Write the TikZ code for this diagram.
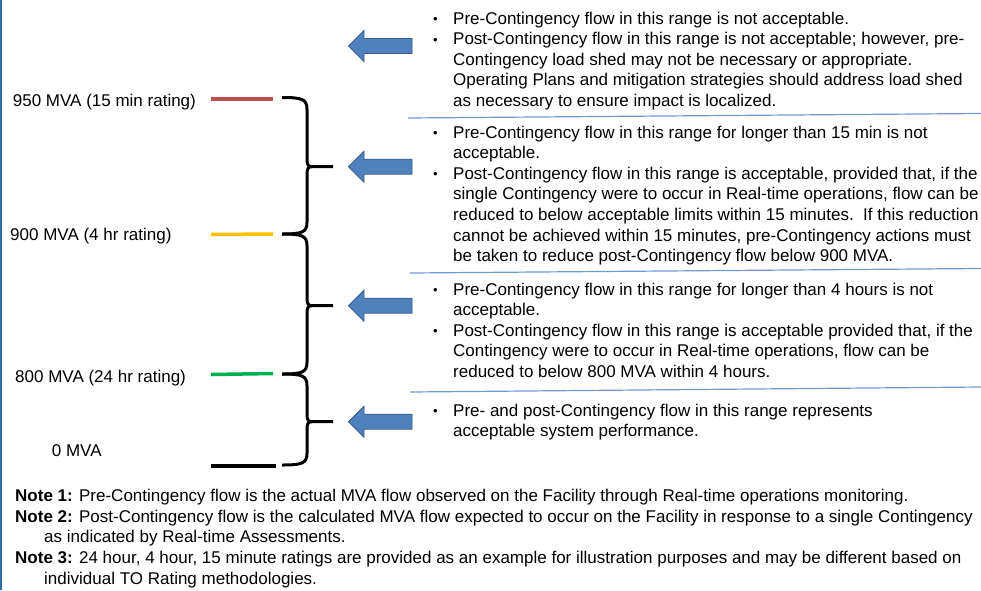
\documentclass[tikz,border=0pt]{standalone}
\usepackage{fontspec}
\setmainfont{Liberation Sans}
\definecolor{arrowfill}{RGB}{79,129,189}
\definecolor{arrowedge}{RGB}{56,93,138}
\definecolor{sepblue}{RGB}{111,155,210}
\definecolor{frameblue}{RGB}{46,110,170}
\definecolor{ratered}{RGB}{192,80,77}
\definecolor{rateyellow}{RGB}{255,192,0}
\definecolor{rategreen}{RGB}{0,176,80}
\newcommand{\bulitem}{\makebox[21pt][l]{\hspace{1pt}\raisebox{0.6pt}{\fontsize{13}{13}\selectfont •}}}
\newcommand{\contline}{\hspace*{21pt}}
\newcommand{\noteind}{\hspace*{29pt}}
\begin{document}
\begin{tikzpicture}[x=1pt,y=-1pt,
  txt/.style={anchor=base west, inner sep=0pt, font=\fontsize{17}{20.6}\selectfont},
  bracestroke/.style={line width=3pt, line join=round},
  larrow/.style={fill=arrowfill, draw=arrowedge, line width=0.9pt, line join=miter},
  sepline/.style={draw=sepblue, line width=1.2pt},
  rating/.style={line width=3.5pt}]
\useasboundingbox (0,0) rectangle (981,590);
\fill[white] (0,0) rectangle (981,590);
\draw[frameblue, line width=2pt] (1,0) -- (1,590);

% rating labels
\node[txt] (l950) at (12.7,106) {950 MVA (15 min rating)};
\node[txt] (l900) at (10,240) {900 MVA (4 hr rating)};
\node[txt] (l800) at (15,382.7) {800 MVA (24 hr rating)};
\node[txt] (l0) at (51.7,456.7) {0 MVA};

% rating lines
\draw[rating, ratered] (211,99) -- (273,99);
\draw[rating, rateyellow] (211,234.5) -- (273,234);
\draw[rating, rategreen] (211,374.5) -- (273,373.5);
\draw[line width=4.3pt, black] (211,466) -- (276,466);

% braces
\foreach \t/\m/\b in {97.5/166.7/234, 234/305.7/374, 374/421.7/465}{
  \draw[bracestroke] (282,\t) .. controls (302,\t) and (307,\t+1.5) .. (307,\t+12)
    -- (307,\m-8) .. controls (307,\m-2) and (308,\m) .. (312,\m) -- (333,\m)
    (312,\m) .. controls (308,\m) and (307,\m+2) .. (307,\m+8)
    -- (307,\b-12) .. controls (307,\b-1.5) and (302,\b) .. (282,\b);
}

% arrows
\foreach \yy in {46,166.7,305.7,421.7}{
  \draw[larrow, shift={(0,\yy)}] (348.5,0) -- (364,-15.5) -- (364,-7.5) -- (412,-7.5)
    -- (412,7.5) -- (364,7.5) -- (364,15.5) -- cycle;
}

% separators
\draw[sepline] (408,118) -- (981,113.5);
\draw[sepline] (410,273) -- (981,268.5);
\draw[sepline] (410,392) -- (981,387);

% text blocks
\node[txt] (b1) at (432,24) {\parbox[t]{560pt}{\raggedright
\bulitem Pre-Contingency flow in this range is not acceptable.\\
\bulitem Post-Contingency flow in this range is not acceptable; however, pre-\\
\contline Contingency load shed may not be necessary or appropriate.\\
\contline Operating Plans and mitigation strategies should address load shed\\
\contline as necessary to ensure impact is localized.}};

\node[txt] (b2) at (432,138.1) {\parbox[t]{560pt}{\raggedright
\bulitem Pre-Contingency flow in this range for longer than 15 min is not\\
\contline acceptable.\\
\bulitem Post-Contingency flow in this range is acceptable, provided that, if the\\
\contline single Contingency were to occur in Real-time operations, flow can be\\
\contline reduced to below acceptable limits within 15 minutes.\ \ If this reduction\\
\contline cannot be achieved within 15 minutes, pre-Contingency actions must\\
\contline be taken to reduce post-Contingency flow below 900 MVA.}};

\node[txt] (b3) at (432,295) {\parbox[t]{560pt}{\raggedright
\bulitem Pre-Contingency flow in this range for longer than 4 hours is not\\
\contline acceptable.\\
\bulitem Post-Contingency flow in this range is acceptable provided that, if the\\
\contline Contingency were to occur in Real-time operations, flow can be\\
\contline reduced to below 800 MVA within 4 hours.}};

\node[txt] (b4) at (432,416) {\parbox[t]{560pt}{\raggedright
\bulitem Pre- and post-Contingency flow in this range represents\\
\contline acceptable system performance.}};

% notes
\node[txt] (notes) at (15,501.7) {\parbox[t]{980pt}{\raggedright
\textbf{Note 1:} Pre-Contingency flow is the actual MVA flow observed on the Facility through Real-time operations monitoring.\\
\textbf{Note 2:} Post-Contingency flow is the calculated MVA flow expected to occur on the Facility in response to a single Contingency\\
\noteind as indicated by Real-time Assessments.\\
\textbf{Note 3:} 24 hour, 4 hour, 15 minute ratings are provided as an example for illustration purposes and may be different based on\\
\noteind individual TO Rating methodologies.}};
\end{tikzpicture}
\end{document}
